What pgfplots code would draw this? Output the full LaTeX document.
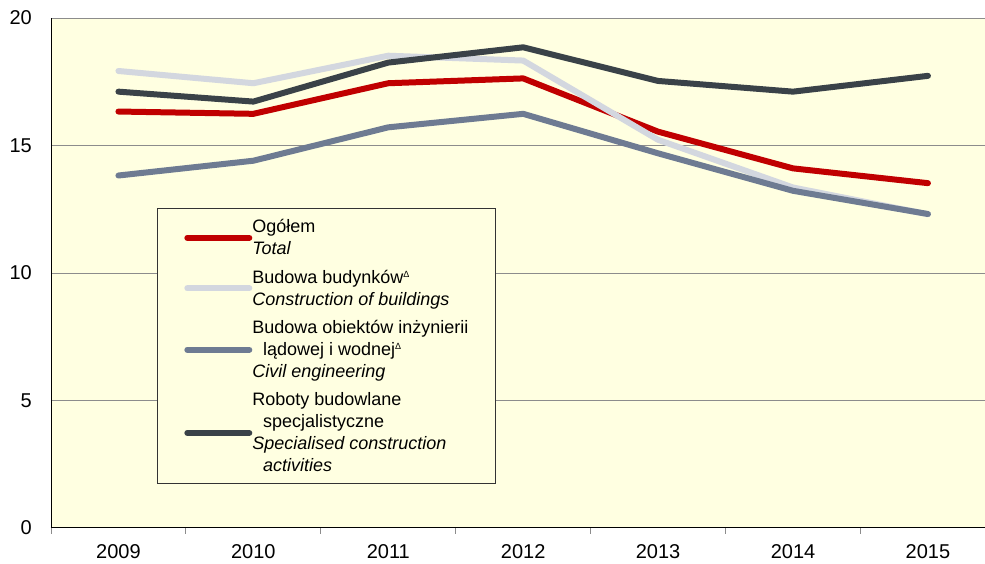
\documentclass[border=0pt]{standalone}
\usepackage{pgfplots}
\pgfplotsset{compat=1.18}
\usepackage{fontspec}
\setmainfont{Liberation Sans}
\definecolor{cTotal}{RGB}{192,0,0}
\definecolor{cBuild}{RGB}{211,215,223}
\definecolor{cCivil}{RGB}{110,123,146}
\definecolor{cSpec}{RGB}{58,66,72}
\definecolor{bgyel}{RGB}{255,255,225}
\definecolor{gridgray}{RGB}{140,140,140}
\newcommand{\sdelta}{\textsuperscript{\fontsize{9}{9}\selectfont Δ}}
\begin{document}
\begin{tikzpicture}
\path (-51pt,-36pt) rectangle (934pt,528pt);
\begin{axis}[
  scale only axis,
  width=934pt, height=510pt,
  xmin=-0.5, xmax=6.42,
  ymin=0, ymax=20,
  axis x line*=bottom, axis y line*=left,
  axis line style={black, line width=0.8pt, -},
  axis background/.style={fill=bgyel},
  ytick={0,5,10,15,20},
  ymajorgrids,
  grid style={gridgray, line width=0.6pt},
  xtick={0,1,2,3,4,5,6},
  xticklabels={2009,2010,2011,2012,2013,2014,2015},
  minor xtick={-0.5,0.5,1.5,2.5,3.5,4.5,5.5},
  major tick length=0pt,
  minor tick length=6pt,
  tick align=outside,
  minor tick style={gridgray, line width=0.8pt},
  /pgf/number format/assume math mode=true,
  ticklabel style={font=\fontsize{20}{24}\selectfont, inner sep=0pt},
  xticklabel shift=17pt,
  yticklabel shift=19pt,
  legend style={
    at={(axis description cs:0.1135,0.627)}, anchor=north west,
    fill=bgyel, draw=black!80, line width=0.8pt,
    font=\fontsize{18}{21.8}\selectfont,
    nodes={align=left, inner sep=0pt},
    /tikz/row sep=14pt,
    inner xsep=27pt, inner ysep=11pt,
  },
  legend cell align=left,
  legend image code/.code={\draw[#1, line width=6pt, line cap=round] (3pt,0pt) -- (50pt,0pt); \path (0pt,0pt) -- (62pt,0pt);},
  every axis plot/.append style={line width=6pt, line cap=round, line join=round},
]
\addplot[cTotal] coordinates {(0,16.33) (1,16.24) (2,17.44) (3,17.63) (4,15.54) (5,14.10) (6,13.52)};
\addlegendentry{Ogółem\\\textit{Total}}
\addplot[cBuild] coordinates {(0,17.92) (1,17.44) (2,18.52) (3,18.33) (4,15.22) (5,13.35) (6,12.30)};
\addlegendentry{Budowa budynków\sdelta\\\textit{Construction of buildings}}
\addplot[cCivil] coordinates {(0,13.82) (1,14.40) (2,15.71) (3,16.24) (4,14.69) (5,13.22) (6,12.31)};
\addlegendentry{Budowa obiektów inżynierii\\\hspace*{0.6em}lądowej i wodnej\sdelta\\\textit{Civil engineering}}
\addplot[cSpec] coordinates {(0,17.11) (1,16.72) (2,18.25) (3,18.85) (4,17.53) (5,17.11) (6,17.73)};
\addlegendentry{Roboty budowlane\\\hspace*{0.6em}specjalistyczne\\\textit{Specialised construction}\\\hspace*{0.6em}\textit{activities}}
\end{axis}
\end{tikzpicture}
\end{document}
